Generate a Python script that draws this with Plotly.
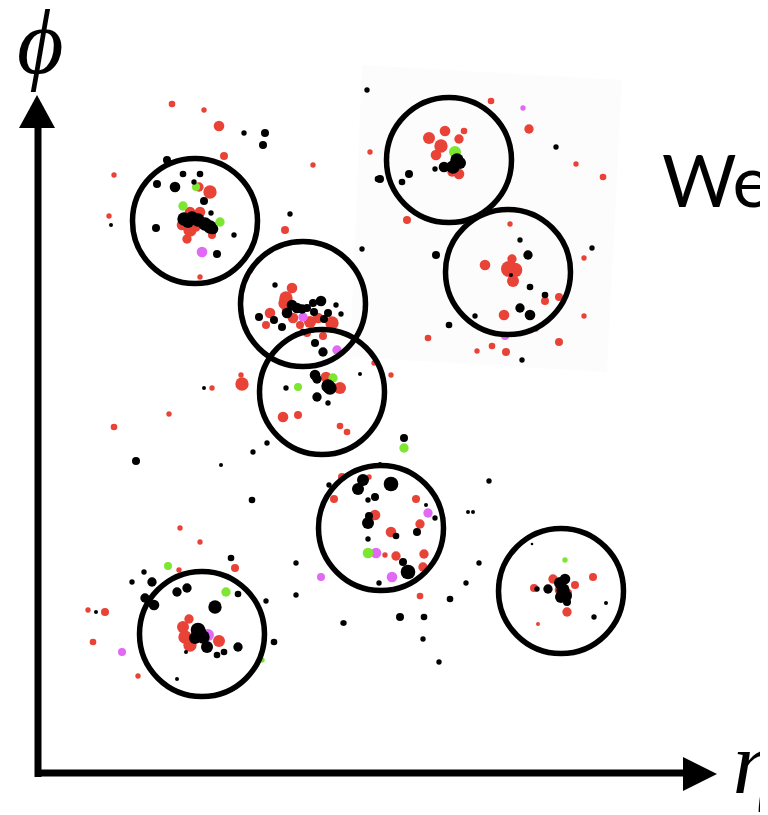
import plotly.graph_objects as go

# ---- data: particle positions (eta, phi in display units), sizes ----
red_eta = [172,204,219,224,313,114,370,
           199,210,190,200,182,190,195,187,212,200,109,285,250,241,
           292,286,285,287,293,310,318,332,270,266,300,307,323,
           242,212,326,340,391,374,283,298,340,347,169,114,
           491,529,576,603,464,445,429,459,441,436,452,459,407,
           510,584,485,512,509,515,513,545,559,504,428,536,584,492,477,506,559,
           180,200,235,179,88,105,189,183,185,190,219,93,138,
           342,369,334,416,375,420,391,385,396,424,423,420,
           593,553,534,575,568,567,538,560]
red_phi = [104,110,126,156,165,175,152,
           187,192,212,212,225,230,226,239,235,277,216,230,271,375,
           288,298,303,309,318,322,318,323,313,325,325,333,336,
           384,388,377,388,375,363,417,415,426,432,414,427,
           101,129,164,177,131,131,138,139,146,155,172,174,220,
           224,258,265,259,269,270,281,301,297,315,338,329,316,346,351,352,342,
           528,542,568,570,610,612,619,627,637,645,641,642,676,
           477,477,499,499,515,524,532,555,556,554,567,596,
           577,579,588,585,593,612,624,590]
red_size = [5,4,8,6,4,4,4,
            7,10,8,8,8,10,9,7,6,4,4,6,4,4,
            8,10,10,8,8,9,8,10,8,6,6,6,6,
            10,4,8,9,4,4,8,6,5,5,4,5,
            5,7,4,5,5,8,9,7,10,8,7,8,6,
            4,4,8,7,12,11,9,6,6,8,5,4,4,5,4,6,6,
            4,4,6,4,4,6,7,9,10,10,9,5,4,
            6,4,6,6,8,7,8,4,7,7,7,5,
            6,7,6,6,6,7,3,8]

black_eta = [244,265,263,167,367,378,
             157,175,183,200,194,204,211,184,192,198,205,210,213,188,156,234,217,111,290,362,360,
             275,292,287,297,302,307,313,321,336,341,314,328,324,259,274,282,303,315,323,
             204,286,315,317,328,330,317,328,404,267,253,221,136,252,
             457,460,453,444,435,409,380,402,556,436,
             520,528,592,511,530,545,520,530,475,449,522,
             231,144,132,152,187,177,238,145,154,266,296,296,215,96,198,203,195,207,238,224,217,186,274,343,177,200,
             380,363,358,391,329,375,368,426,435,369,368,396,417,368,403,408,379,489,468,473,479,466,450,400,424,344,423,439,
             532,565,537,548,560,563,566,561,567,606,594]
black_phi = [133,133,145,160,90,179,
             184,187,174,174,182,201,213,219,218,220,224,227,229,222,228,235,254,225,214,249,374,
             285,305,313,308,309,308,303,301,305,314,312,313,319,317,320,327,332,343,352,
             388,388,375,379,386,388,397,403,438,443,452,465,461,500,
             160,163,167,167,169,174,179,182,147,255,
             240,255,248,275,287,295,308,315,316,325,360,
             558,572,582,582,588,592,594,598,605,601,563,595,607,612,630,637,638,647,647,652,655,652,642,623,679,633,
             464,480,489,484,485,497,500,505,518,516,523,536,532,539,562,572,583,481,512,512,563,583,599,617,617,623,639,662,
             544,579,589,589,583,590,596,597,602,603,617]
black_size = [4,6,6,6,4,5,
              6,8,5,5,4,6,4,10,10,10,10,10,8,9,6,4,6,3,4,4,3,
              4,8,8,8,7,6,6,8,4,4,6,6,6,6,6,6,5,6,7,
              3,4,8,7,10,10,7,4,6,4,4,3,6,5,
              10,9,10,8,4,6,6,5,4,6,
              4,7,4,3,5,5,7,8,4,5,4,
              5,4,4,7,7,7,5,7,8,4,4,4,10,3,11,10,9,9,7,5,5,3,5,4,3,10,
              3,9,9,11,4,6,4,3,4,6,9,5,6,4,6,11,4,4,3,3,4,4,5,6,5,4,4,4,
              2,8,4,7,9,10,9,9,6,3,4]

green_eta = [196,183,220,455,298,333,404,168,226,262,368,565,566]
green_phi = [187,206,222,152,387,378,448,566,592,660,553,560,600]
green_size = [6,7,7,9,6,7,7,6,7,4,8,4,4]

magenta_eta = [202,303,337,523,505,208,122,321,428,376,392]
magenta_phi = [252,317,350,108,336,635,652,577,513,553,577]
magenta_size = [8,7,7,4,6,9,6,6,7,8,8]

# jet cone centres and radius
jet_eta = [195,303,322,449,508,381,561,202]
jet_phi = [221,304,392,160,272,528,591,634]
jet_R = 62.5

fig = go.Figure()
for ex, ph, sz, col in [(red_eta, red_phi, red_size, "rgb(233,66,54)"),
                        (magenta_eta, magenta_phi, magenta_size, "rgb(226,104,246)"),
                        (green_eta, green_phi, green_size, "rgb(124,230,48)"),
                        (black_eta, black_phi, black_size, "black")]:
    fig.add_trace(go.Scatter(x=ex, y=ph, mode="markers",
                             marker=dict(size=sz, sizeref=0.75, sizemode="diameter",
                                         color=col, opacity=1, line=dict(width=0)),
                             hoverinfo="skip", showlegend=False))

shapes = []
# faint panel behind top-right jets
shapes.append(dict(type="path", path="M 362 65 L 622 80 L 607 372 L 350 357 Z",
                   fillcolor="#fcfcfc", line=dict(width=0), layer="below"))
for cx, cy in zip(jet_eta, jet_phi):
    shapes.append(dict(type="circle", x0=cx - jet_R, x1=cx + jet_R, y0=cy - jet_R, y1=cy + jet_R,
                       line=dict(color="black", width=5.5)))
# axes arrows
shapes.append(dict(type="line", x0=38, x1=38, y0=777, y1=120, line=dict(color="black", width=7)))
shapes.append(dict(type="line", x0=35, x1=690, y0=773, y1=773, line=dict(color="black", width=7)))
shapes.append(dict(type="path", path="M 37 95 L 19 128 L 55 128 Z", fillcolor="black", line=dict(width=0)))
shapes.append(dict(type="path", path="M 717 774 L 683 757 L 683 791 Z", fillcolor="black", line=dict(width=0)))

# page body has an 8px margin: size the figure to fit and offset ranges
fig.update_layout(
    width=760, height=807, margin=dict(l=0, r=0, t=0, b=0),
    paper_bgcolor="white", plot_bgcolor="white",
    xaxis=dict(range=[8, 768], visible=False, fixedrange=True),
    yaxis=dict(range=[815, 8], visible=False, fixedrange=True),
    shapes=shapes,
    annotations=[
        dict(x=40, y=42, text="<i>ϕ</i>", showarrow=False, xanchor="center", yanchor="middle",
             font=dict(family="Liberation Serif", size=90, color="black")),
        dict(x=731, y=763, text="<i>η</i>", showarrow=False, xanchor="left", yanchor="middle",
             font=dict(family="Liberation Serif", size=88, color="black")),
        dict(x=660, y=179, text="We", showarrow=False, xanchor="left", yanchor="middle",
             font=dict(family="Lato", size=72, color="black")),
    ],
)
fig.write_html("out.html")
